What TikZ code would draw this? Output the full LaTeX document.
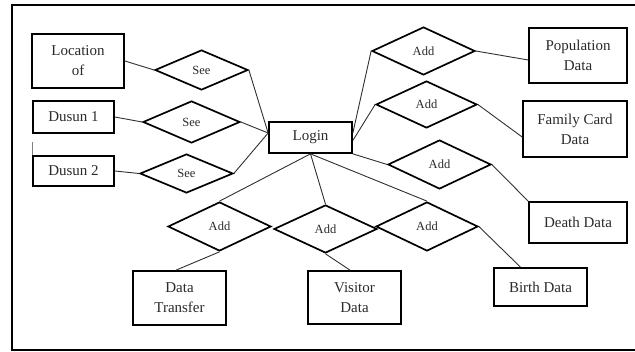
\documentclass[tikz,border=0pt]{standalone}
\usepackage{fontspec}
\setmainfont{Liberation Serif}
\usetikzlibrary{shapes.geometric}
\definecolor{txt}{HTML}{2A2A2A}
\definecolor{ln}{HTML}{303030}
\tikzset{
  ent/.style={draw=black, line width=1.7pt, rectangle, inner sep=0pt, align=center,
    text=txt, font=\fontsize{15}{20}\selectfont},
  rel/.style={draw=black, line width=1.7pt, diamond, inner sep=0pt, align=center,
    text=txt, font=\fontsize{12.5}{14}\selectfont},
  conn/.style={draw=ln, line width=0.9pt},
  frame/.style={draw=black, line width=1.8pt}
}
\begin{document}
\begin{tikzpicture}[x=1pt,y=-1pt]
\useasboundingbox (0,0) rectangle (635,352);
\draw[frame] (635,5) -- (12,5) -- (12,350) -- (635,350);

% entities
\node[ent, minimum width=92pt, minimum height=54pt] (loc) at (78,61) {Location\\of};
\node[ent, minimum width=81pt, minimum height=32pt] (d1) at (73.5,117) {Dusun 1};
\node[ent, minimum width=81pt, minimum height=30pt] (d2) at (73.5,171) {Dusun 2};
\node[ent, minimum width=83pt, minimum height=31pt] (login) at (310.5,137.5) {Login};
\node[ent, minimum width=98pt, minimum height=55pt] (pop) at (578,55.5) {Population\\Data};
\node[ent, minimum width=104pt, minimum height=56pt] (fam) at (575,129) {Family Card\\Data};
\node[ent, minimum width=98pt, minimum height=41pt] (death) at (578,222.5) {Death Data};
\node[ent, minimum width=93pt, minimum height=38pt] (birth) at (540.5,287) {Birth Data};
\node[ent, minimum width=93pt, minimum height=54pt] (dt) at (179.5,298) {Data\\Transfer};
\node[ent, minimum width=93pt, minimum height=53pt] (vis) at (354.5,297.5) {Visitor\\Data};

% relations
\node[rel, minimum width=93pt, minimum height=40pt] (s1) at (201.5,70) {See};
\node[rel, minimum width=97pt, minimum height=42pt] (s2) at (191.5,122) {See};
\node[rel, minimum width=93pt, minimum height=39pt] (s3) at (186.5,173.5) {See};
\node[rel, minimum width=103pt, minimum height=48pt] (a1) at (423.5,51) {Add};
\node[rel, minimum width=101pt, minimum height=47pt] (a2) at (426.5,104.5) {Add};
\node[rel, minimum width=103pt, minimum height=49pt] (a3) at (439.5,164.5) {Add};
\node[rel, minimum width=102pt, minimum height=49pt] (a5) at (427,226.5) {Add};
\node[rel, minimum width=103pt, minimum height=48pt] (a4) at (325.5,229) {Add};
\node[rel, minimum width=103pt, minimum height=49pt] (a6) at (219.5,226.5) {Add};

% connectors
\draw[conn] (loc.east) -- (s1.west);
\draw[conn] (d1.east) -- (s2.west);
\draw[conn] (d2.east) -- (s3.west);
\draw[conn] (s1.east) -- ([yshift=4.5pt]login.west);
\draw[conn] (s2.east) -- ([yshift=4.5pt]login.west);
\draw[conn] (s3.east) -- ([yshift=4.5pt]login.west);
\draw[conn] ([yshift=4.5pt]login.east) -- (a1.west);
\draw[conn] ([yshift=-3pt]login.east) -- (a2.west);
\draw[conn] (login.south east) -- (a3.west);
\draw[conn] (a1.east) -- ([yshift=-4.5pt]pop.west);
\draw[conn] (a2.east) -- ([yshift=-8pt]fam.west);
\draw[conn] (a3.east) -- (death.north west);
\draw[conn] (login.south) -- (a6.north);
\draw[conn] (login.south) -- (a4.north);
\draw[conn] (login.south) -- (a5.north);
\draw[conn] (a6.south) -- ([xshift=-3.5pt]dt.north);
\draw[conn] (a4.south) -- ([xshift=-4.5pt]vis.north);
\draw[conn] (a5.east) -- ([xshift=-20pt]birth.north);
\draw[conn, draw=gray, line width=0.6pt] ([xshift=0.5pt]d2.north west) -- ++(0,-13);
\end{tikzpicture}
\end{document}
